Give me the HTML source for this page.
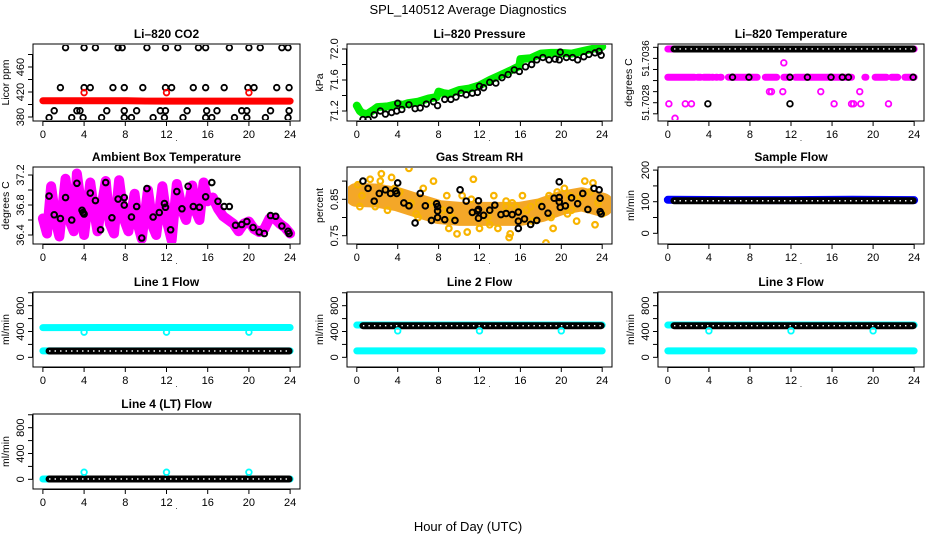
<!DOCTYPE html>
<html><head><meta charset="utf-8"><title>SPL_140512 Average Diagnostics</title>
<style>
html,body{margin:0;padding:0;background:#fff;}
svg{display:block;font-family:"Liberation Sans",Arial,sans-serif;}
</style></head>
<body>
<svg id="chart" width="936" height="540" viewBox="0 0 936 540" xmlns="http://www.w3.org/2000/svg">
<text x="468" y="14" text-anchor="middle" font-size="13">SPL_140512  Average Diagnostics</text>
<text x="468" y="531" text-anchor="middle" font-size="13">Hour of Day (UTC)</text>
</svg>
<script>
// ---------- data ----------
const xTicks = [0,4,8,12,16,20,24];
// CO2
const co2Hours = [2.2,4,5.1,7.3,7.7,10.1,11.9,13.1,15.1,15.8,18.1,20,21.1,23.2,23.8,
 1.7,4,4.6,6.8,7.9,9.7,11.9,12.5,14.6,15.8,17.6,19.9,20.5,22.7,23.9,
 1.1,3.3,3.6,6.2,7.9,9.1,11.4,11.9,14,15.9,16.9,19.3,19.8,22.1,23.9,
 0.6,2.8,3.9,5.7,7.9,8.6,10.7,11.8,13.6,15.8,16.4,18.6,19.8,21.6,23.8];
const co2Vals = [491,491,491,491,491,491,491,491,491,491,491,491,491,491,491,
 427,427,427,427,427,427,427,427,427,427,427,427,427,427,427,
 390,390,390,390,390,390,390,390,390,390,390,390,390,390,390,
 379,379,379,379,379,379,379,379,379,379,379,379,379,379,379];
const co2RedHours = [0,2,4,6,8,10,12,14,16,18,20,22,24];
const co2RedVals = [406,406,406,406,406,405.5,405.5,405.5,405.5,405.5,405.5,405.5,405.5];
const co2OutHours = [4,12,20];
const co2OutVals = [419,419,419];
// Pressure
const presGreenHours = [0,0.3,0.6,1,1.7,2,3,4,4.5,5,6,7,7.8,8,8.5,9,10,11,12,13,14,15,15.9,16,17,18,19,20,21,22,23,24];
const presGreenVals = [71.27,71.2,71.17,71.16,71.22,71.25,71.26,71.29,71.28,71.3,71.32,71.36,71.38,71.45,71.43,71.42,71.47,71.49,71.53,71.6,71.66,71.72,71.78,71.87,71.88,71.94,71.95,71.95,71.94,71.97,72.0,72.03];
const presBlackHours = [0.6,1.1,1.7,2.3,2.8,3.4,3.9,4,4.4,5.1,5.7,6.2,6.8,7.5,7.9,8.6,9.2,9.7,10.2,10.7,11.3,11.8,12,12.4,13,13.6,14.2,14.8,15.4,15.9,16.5,17.1,17.6,18.2,18.8,19.4,19.8,19.9,20.5,21.1,21.6,22.2,22.7,23.3,23.7,23.9];
const presBlackVals = [71.09,71.09,71.15,71.2,71.16,71.18,71.2,71.3,71.22,71.28,71.23,71.24,71.29,71.32,71.27,71.35,71.35,71.38,71.43,71.41,71.43,71.44,71.52,71.5,71.57,71.56,71.63,71.67,71.73,71.71,71.77,71.8,71.86,71.89,71.86,71.87,71.86,71.96,71.89,71.89,71.86,71.9,71.93,71.95,71.97,71.92];
// Li-820 temperature
const tTopHours = [0,24];
const tTopVals = [51.70377,51.70377];
const tTopBlackHours = [0.6,23.9];
const tTopBlackVals = [51.70377,51.70377];
const tMidStarts = [0,2.9,3.5,4.3,4.7,5.1,5.9,9.5,11.3,12.4,19.2,20.2,21.8,23.1];
const tMidEnds   = [2.6,3.2,4.1,4.4,4.8,5.2,8.7,10.6,11.8,17.9,19.3,21.3,22.4,24];
const tMidVal = 51.70326;
const tMagHours = [0.1,1.7,2.3,16.2,17.9,18.1,18.8,21.5,9.9,10.1,11.2,14.9,18.7,11.3,0.7];
const tMagVals = [51.70278,51.70278,51.70278,51.70278,51.70278,51.70278,51.70278,51.70278,51.703,51.703,51.703,51.703,51.703,51.70352,51.70252];
const tBlackHours = [6.3,7.9,11.9,13.6,15.9,17.0,17.6,23.9,3.9,11.9];
const tBlackVals = [51.70326,51.70326,51.70326,51.70326,51.70326,51.70326,51.70326,51.70326,51.70278,51.70278];
// Ambient box temperature
const ambHours = [0,0.4,0.8,1.3,1.6,2.2,2.7,3.0,3.3,3.9,4.0,4.6,5.0,5.3,6.1,6.5,6.9,7.4,7.9,8.3,8.9,9.3,9.6,10.2,10.7,11.0,11.6,12.1,12.5,13.0,13.6,13.9,14.5,14.9,15.2,15.6,16,16.5,17,17.5,18.5,19,19.5,20,20.5,21,21.5,22,22.5,23,23.5,24];
const ambVals = [36.62,36.42,37.05,36.55,36.38,37.15,36.55,36.45,37.22,36.6,36.4,37.1,36.7,36.45,37.12,36.55,36.42,37.13,36.6,36.45,36.95,36.5,36.35,37.0,36.5,36.4,37.05,36.55,36.33,37.08,36.7,36.6,37.06,36.7,36.6,37.1,36.85,36.9,36.75,36.65,36.55,36.45,36.55,36.58,36.48,36.44,36.48,36.62,36.62,36.55,36.5,36.42];
const ambBlackHours = [0.6,1.1,1.7,2.2,2.8,3.3,3.8,3.9,4,4.6,5.1,5.6,6.1,6.7,7.3,7.9,7.9,8.6,9.1,9.6,10.1,10.7,11.3,11.8,11.9,12.4,13.0,13.5,14.1,14.6,15.2,15.8,16.4,17.0,17.6,18.1,18.7,19.3,19.8,20.4,21,21.5,22.1,22.6,23.2,23.8,23.9];
const ambBlackVals = [36.92,36.67,36.62,36.9,36.6,37.09,36.73,36.7,36.68,36.96,36.86,36.47,37.1,36.63,36.88,36.9,36.8,36.64,36.78,36.36,37.02,36.64,36.7,36.82,36.77,36.47,36.98,36.75,37.05,36.78,36.77,36.91,37.1,36.85,36.78,36.78,36.53,36.54,36.58,36.5,36.44,36.42,36.66,36.65,36.52,36.45,36.42];
// Gas stream RH
const rhBandHours = [0,2,4,6,8,10,12,14,16,18,20,22,24];
const rhBandVals = [0.862,0.86,0.85,0.832,0.815,0.81,0.81,0.81,0.81,0.82,0.84,0.85,0.835];
const rhOrangeHours = [0.1,0.5,1.3,2.3,2.4,3.4,3.7,4.2,5.1,5.3,5.8,6.5,7.5,7.2,8.4,8.8,9.3,9.8,10.3,10.8,11.4,11.2,12.0,12.8,13.4,13.8,14.6,14.6,15.2,14.9,15.0,15.6,16.2,16.6,17.2,17.8,18.5,18.8,19.2,19.6,20.3,20.6,20.8,21.5,21.8,22.3,22.8,23.1,23.3,23.6,1.8,3.0,6.0,9.0,13.0,17.0,19.0,21.0,24,0.3];
const rhOrangeVals = [0.89,0.86,0.905,0.9,0.92,0.91,0.88,0.87,0.935,0.84,0.81,0.88,0.9,0.84,0.82,0.86,0.8,0.755,0.86,0.76,0.905,0.85,0.77,0.8,0.86,0.77,0.83,0.845,0.84,0.745,0.755,0.83,0.86,0.82,0.79,0.84,0.73,0.86,0.77,0.87,0.88,0.81,0.86,0.79,0.855,0.9,0.87,0.895,0.78,0.84,0.83,0.82,0.8,0.77,0.78,0.83,0.8,0.82,0.81,0.83];
const rhBlackHours = [0.6,1.1,1.7,2.2,2.8,3.3,3.8,3.9,4.0,4.6,5.1,5.7,6.2,6.7,7.3,7.8,7.9,7.9,7.9,8.6,9.1,9.6,10.1,10.7,11.3,11.8,11.9,11.9,11.9,12.4,13.0,13.5,14.1,14.6,15.2,15.8,15.8,15.8,16.4,17.0,17.6,18.1,18.7,19.3,19.8,19.8,19.8,19.9,20.4,21,21.6,22.1,22.6,23.2,23.7,23.8,23.8,23.9];
const rhBlackVals = [0.9,0.88,0.845,0.866,0.876,0.866,0.873,0.866,0.895,0.84,0.832,0.785,0.866,0.832,0.792,0.838,0.83,0.818,0.8,0.794,0.82,0.792,0.876,0.845,0.814,0.818,0.822,0.846,0.798,0.806,0.82,0.834,0.808,0.811,0.808,0.815,0.79,0.77,0.796,0.781,0.792,0.83,0.812,0.853,0.898,0.855,0.843,0.828,0.832,0.854,0.838,0.866,0.822,0.88,0.876,0.853,0.816,0.81];
// Flows
const bandHours = [0,6,12,18,24];
const blackHours = [0.6,6,12,18,23.9];
const sampleBlue = [106,105,105,106,105];
const sampleBlack = [103,103,103,103,103];
const line1CyanHi = [460,462,462,462,462];
const line1CyanLo = [100,100,100,100,100];
const line1Black = [98,98,98,98,98];
const line1OutVals = [390,390,390];
const line2CyanHi = [500,500,500,500,500];
const line2CyanLo = [100,100,100,100,100];
const line2Black = [490,490,490,490,490];
const line2OutVals = [410,410,410];
const line3CyanHi = [500,500,500,500,500];
const line3CyanLo = [100,100,100,100,100];
const line3Black = [490,490,490,490,490];
const line3OutVals = [410,410,410];
const line4Cyan = [5,5,5,5,5];
const line4Black = [5,5,5,5,5];
const line4OutVals = [110,110,110];
const outHours = [4,12,20];

// ---------- drawing ----------
const NS = "http://www.w3.org/2000/svg";
const svg = document.getElementById('chart');
function mk(tag, attrs, parent){
  const e = document.createElementNS(NS, tag);
  for (const k in attrs) e.setAttribute(k, attrs[k]);
  (parent||svg).appendChild(e);
  return e;
}
const cols = [[33,300],[347,612],[658,924]];
const rows = [[44,121],[167,244],[292,367],[414,489]];

function panel(c, r, o){
  const [x0,x1] = cols[c], [y0,y1] = rows[r];
  const g = mk('g', {});
  
  
  const sx = h => x0 + (h + 0.96) / 25.92 * (x1 - x0);
  const sy = v => y1 - (v - o.ylim[0]) / (o.ylim[1] - o.ylim[0]) * (y1 - y0);
  const t = mk('text', {x:(x0+x1)/2, y:y0-6, 'text-anchor':'middle', 'font-size':12, 'font-weight':'bold'}, g);
  t.textContent = o.title;
  
  
  const box = mk('rect', {x:x0, y:y0, width:x1-x0, height:y1-y0, fill:'none', stroke:'#000', 'stroke-width':1}, g);
  
  
  const xa = mk('g', {}, g);
  
  
  mk('line', {x1:sx(0), x2:sx(24), y1:y1+0.5, y2:y1+0.5, stroke:'#000'}, xa);
  xTicks.forEach(v => {
    mk('line', {x1:sx(v), x2:sx(v), y1:y1, y2:y1+5, stroke:'#000'}, xa);
    const tl = mk('text', {x:sx(v), y:y1+17, 'text-anchor':'middle', 'font-size':11}, xa);
    tl.textContent = v;
    
    
  });
  const dot = mk('text', {x:(x0+x1)/2+10, y:y1+20, 'text-anchor':'middle', 'font-size':8}, xa);
  dot.textContent = '.';
  const ya = mk('g', {}, g);
  
  
  const yt = o.yticks;
  mk('line', {x1:x0-0.5, x2:x0-0.5, y1:sy(yt[0]), y2:sy(yt[yt.length-1]), stroke:'#000'}, ya);
  yt.forEach(v => mk('line', {x1:x0-5, x2:x0, y1:sy(v), y2:sy(v), stroke:'#000'}, ya));
  o.ylabels.forEach(v => {
    const y = sy(v), x = x0 - 9;
    const tl = mk('text', {x:x, y:y, transform:`rotate(-90 ${x} ${y})`, 'text-anchor':'middle', 'font-size':o.lfs||11}, ya);
    tl.textContent = o.fmt ? o.fmt(v) : v;
    
    
  });
  const yx = x0 - (o.ylabOff||24), yy = (y0+y1)/2;
  const yl = mk('text', {x:yx, y:yy, transform:`rotate(-90 ${yx} ${yy})`, 'text-anchor':'middle', 'font-size':10.5}, ya);
  yl.textContent = o.ylab;
  
  
  const clip = 'clip' + c + r;
  const cp = mk('clipPath', {id:clip}, g);
  mk('rect', {x:x0+1, y:y0+1, width:x1-x0-2, height:y1-y0-2}, cp);
  const pg = mk('g', {'clip-path':`url(#${clip})`}, g);
  return {sx, sy, g:pg};
}
function pts(P, hs, vs, color, name, r, sw){
  hs.forEach((h,i) => {
    const e = mk('circle', {cx:P.sx(h), cy:P.sy(vs[i]), r:r||2.8, fill:'none', stroke:color, 'stroke-width':sw||1.8}, P.g);
    
    
  });
}
function band(P, hs, vs, color, name, w, op){
  const e = mk('polyline', {points:hs.map((h,i)=>P.sx(h)+','+P.sy(vs[i])).join(' '), fill:'none', stroke:color, 'stroke-width':w||7, 'stroke-linecap':'round', 'stroke-linejoin':'round', opacity:op||1}, P.g);
  
  
}
function ringBand(P, hs, vs, name){
  band(P, hs, vs, '#000', name, 7);
  const e = mk('polyline', {points:hs.map((h,i)=>P.sx(h)+','+P.sy(vs[i])).join(' '), fill:'none', stroke:'#fff', 'stroke-width':1.4, 'stroke-dasharray':'1.4 4.1'}, P.g);
  
  
}

// CO2
let P = panel(0,0,{name:'co2', title:'Li–820 CO2', ylab:'Licor ppm', ylim:[373.6,496.8], yticks:[380,400,420,440,460,480], ylabels:[380,420,460]});
pts(P, co2Hours, co2Vals, '#000', 'co2-point');
band(P, co2RedHours, co2RedVals, '#ff0000', 'co2-red-series', 7);
pts(P, co2OutHours, co2OutVals, '#ff0000', 'co2-red-outlier');

// Pressure
P = panel(1,0,{name:'pressure', title:'Li–820 Pressure', ylab:'kPa', ylim:[71.071,72.0645], yticks:[71.2,71.4,71.6,71.8,72.0], ylabels:[71.2,71.6,72.0], fmt:v=>v.toFixed(1)});
band(P, presGreenHours, presGreenVals, '#00ee00', 'pressure-green-series', 8);
pts(P, presBlackHours, presBlackVals, '#000', 'pressure-point');

// Li-820 temperature
P = panel(2,0,{name:'li820-temp', title:'Li–820 Temperature', ylab:'degrees C', ylim:[51.70247,51.70386], yticks:[51.7026,51.7028,51.703,51.7032,51.7034,51.7036,51.7038], ylabels:[51.7028,51.7036], fmt:v=>v.toFixed(4), lfs:10, ylabOff:26});
band(P, tTopHours, tTopVals, '#ff00ff', 'li820-temp-magenta-top', 7);
ringBand(P, tTopBlackHours, tTopBlackVals, 'li820-temp-black-top');
tMidStarts.forEach((s,i) => band(P, [s, tMidEnds[i]], [tMidVal, tMidVal], '#ff00ff', 'li820-temp-magenta-mid', 7));
pts(P, tMagHours, tMagVals, '#ff00ff', 'li820-temp-magenta-point');
pts(P, tBlackHours, tBlackVals, '#000', 'li820-temp-black-point');

// Ambient box temperature
P = panel(0,1,{name:'ambient-temp', title:'Ambient Box Temperature', ylab:'degrees C', ylim:[36.28,37.307], yticks:[36.4,36.6,36.8,37.0,37.2], ylabels:[36.4,36.8,37.2], fmt:v=>v.toFixed(1)});
band(P, ambHours, ambVals, '#ff00ff', 'ambient-temp-magenta-series', 10);
pts(P, ambBlackHours, ambBlackVals, '#000', 'ambient-temp-point', 2.8, 2);

// Gas stream RH
P = panel(1,1,{name:'rh', title:'Gas Stream RH', ylab:'percent', ylim:[0.7272,0.9387], yticks:[0.75,0.8,0.85,0.9], ylabels:[0.75,0.85], fmt:v=>v.toFixed(2)});
band(P, rhBandHours, rhBandVals, '#f3a21c', 'rh-orange-band', 24, 0.95);
pts(P, rhOrangeHours, rhOrangeVals, '#f8b400', 'rh-orange-point', 2.8, 2.2);
pts(P, rhBlackHours, rhBlackVals, '#000', 'rh-black-point', 2.8, 2);

// Sample flow
P = panel(2,1,{name:'sample-flow', title:'Sample Flow', ylab:'ml/min', ylim:[-33.8,209.8], yticks:[0,50,100,150,200], ylabels:[0,100,200]});
band(P, bandHours, sampleBlue, '#0000ff', 'sample-flow-blue-series', 8);
ringBand(P, blackHours, sampleBlack, 'sample-flow-black-series');

const flowOpts = {ylab:'ml/min', ylim:[-150,1012], yticks:[0,200,400,600,800,1000], ylabels:[0,400,800]};
P = panel(0,2,Object.assign({name:'line1-flow', title:'Line 1 Flow'}, flowOpts));
band(P, bandHours, line1CyanHi, '#00ffff', 'line1-cyan-high', 7);
band(P, bandHours, line1CyanLo, '#00ffff', 'line1-cyan-low', 7);
ringBand(P, blackHours, line1Black, 'line1-black-series');
pts(P, outHours, line1OutVals, '#00ffff', 'line1-cyan-outlier');
P = panel(1,2,Object.assign({name:'line2-flow', title:'Line 2 Flow'}, flowOpts));
band(P, bandHours, line2CyanHi, '#00ffff', 'line2-cyan-high', 7);
band(P, bandHours, line2CyanLo, '#00ffff', 'line2-cyan-low', 7);
ringBand(P, blackHours, line2Black, 'line2-black-series');
pts(P, outHours, line2OutVals, '#00ffff', 'line2-cyan-outlier');
P = panel(2,2,Object.assign({name:'line3-flow', title:'Line 3 Flow'}, flowOpts));
band(P, bandHours, line3CyanHi, '#00ffff', 'line3-cyan-high', 7);
band(P, bandHours, line3CyanLo, '#00ffff', 'line3-cyan-low', 7);
ringBand(P, blackHours, line3Black, 'line3-black-series');
pts(P, outHours, line3OutVals, '#00ffff', 'line3-cyan-outlier');
P = panel(0,3,Object.assign({name:'line4-flow', title:'Line 4 (LT) Flow'}, flowOpts));
band(P, bandHours, line4Cyan, '#00ffff', 'line4-cyan-series', 7);
ringBand(P, blackHours, line4Black, 'line4-black-series');
pts(P, outHours, line4OutVals, '#00ffff', 'line4-cyan-outlier');
</script>
</body></html>
